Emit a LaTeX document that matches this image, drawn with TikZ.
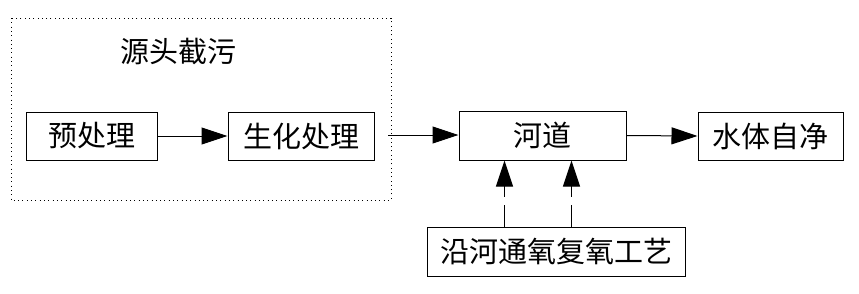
\documentclass[tikz,border=0pt]{standalone}
\usepackage{fontspec}
\newfontfamily\cjk{Noto Sans CJK SC}
\usetikzlibrary{arrows.meta}
\begin{document}
\begin{tikzpicture}[x=1pt,y=-1pt,
  box/.style={draw,line width=1pt,minimum height=48pt,inner sep=0pt,font=\cjk\fontsize{29}{32}\selectfont},
  lbl/.style={inner sep=0pt,font=\cjk\fontsize{29}{32}\selectfont},
  arr/.style={line width=1pt,-{Triangle[length=26pt,width=17pt]}},
  darr/.style={arr,dash pattern=on 22pt off 8pt}]
\useasboundingbox (0,0) rectangle (859,293);
\draw[line width=1pt,dash pattern=on 1pt off 3.3pt] (11,18) rectangle (391,200);
\node[lbl] (title) at (178,51) {源头截污};
\node[box,minimum width=131pt] (pre) at (91.5,136) {预处理};
\node[box,minimum width=146pt] (bio) at (301,136) {生化处理};
\node[box,minimum width=167pt,minimum height=49pt] (river) at (542.5,135.5) {河道};
\node[box,minimum width=145pt] (self) at (770.5,136) {水体自净};
\node[box,minimum width=258pt,minimum height=49pt] (oxy) at (556,251.5) {沿河通氧复氧工艺};
\coordinate (out) at (388,135);
\draw[arr] (pre.east) -- (bio.west);
\draw[arr] (out) -- (out -| river.west);
\draw[arr] (river.east) -- (self.west);
\draw[darr] ([xshift=78pt]oxy.north west) -- ([xshift=46pt]river.south west);
\draw[darr] ([xshift=145pt]oxy.north west) -- ([xshift=113pt]river.south west);
\end{tikzpicture}
\end{document}
